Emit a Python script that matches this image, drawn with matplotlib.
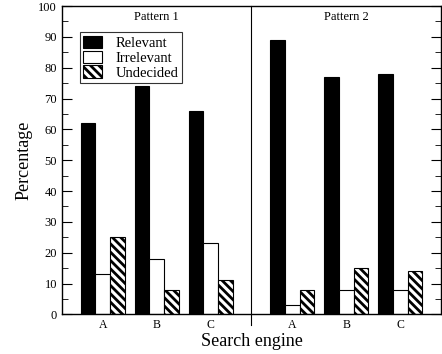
import numpy as np
import matplotlib.pyplot as plt
from matplotlib.ticker import MultipleLocator

engines = ["A", "B", "C"]
patterns = ["Pattern 1", "Pattern 2"]
relevant = [[62, 74, 66], [89, 77, 78]]
irrelevant = [[13, 18, 23], [3, 8, 8]]
undecided = [[25, 8, 11], [8, 15, 14]]

plt.rcParams['font.family'] = ['Liberation Serif', 'DejaVu Serif']
plt.rcParams['hatch.linewidth'] = 2.0

fig = plt.figure(figsize=(4.42, 3.54), dpi=100)
ax = fig.add_axes([0.140, 0.112, 0.858, 0.871])

w = 1.0
spacing = 3.7
centers = []
for p in range(2):
    mid = 6.5 + 13 * p
    xc = mid + spacing * np.arange(-1, 2)
    centers.extend(xc)
    ax.bar(xc - w, relevant[p], w, color='black', edgecolor='black', lw=0.8,
           label='Relevant' if p == 0 else None)
    ax.bar(xc, irrelevant[p], w, color='white', edgecolor='black', lw=0.8,
           label='Irrelevant' if p == 0 else None)
    ax.bar(xc + w, undecided[p], w, color='white', edgecolor='black', lw=0.8,
           hatch='\\\\\\\\', label='Undecided' if p == 0 else None)
    ax.text(mid, 98.3, patterns[p], ha='center', va='top', fontsize=9)

# divider between patterns
ax.plot([13, 13], [-3.5, 100], color='black', lw=0.8, clip_on=False)

ax.set_xlim(0, 26)
ax.set_ylim(0, 100)
ax.set_xticks(centers)
ax.set_xticklabels(engines * 2, fontsize=8.5)
ax.tick_params(axis='x', length=0, pad=3)
ax.yaxis.set_major_locator(MultipleLocator(10))
ax.yaxis.set_minor_locator(MultipleLocator(5))
ax.tick_params(axis='y', which='both', direction='in', right=True, labelsize=9)
ax.tick_params(axis='y', which='major', length=7)
ax.tick_params(axis='y', which='minor', length=4)
for s in ax.spines.values():
    s.set_linewidth(1.0)

ax.set_xlabel("Search engine", fontsize=13, labelpad=2)
ax.set_ylabel("Percentage", fontsize=13, labelpad=4)

leg = ax.legend(loc='upper left', bbox_to_anchor=(0.047, 0.915), fontsize=10.5,
                frameon=True, fancybox=False, edgecolor='black',
                handlelength=1.3, handleheight=0.9, handletextpad=0.9,
                labelspacing=0.05, borderpad=0.25, borderaxespad=0)
leg.get_frame().set_linewidth(0.8)

fig.savefig("out.png", dpi=100)
